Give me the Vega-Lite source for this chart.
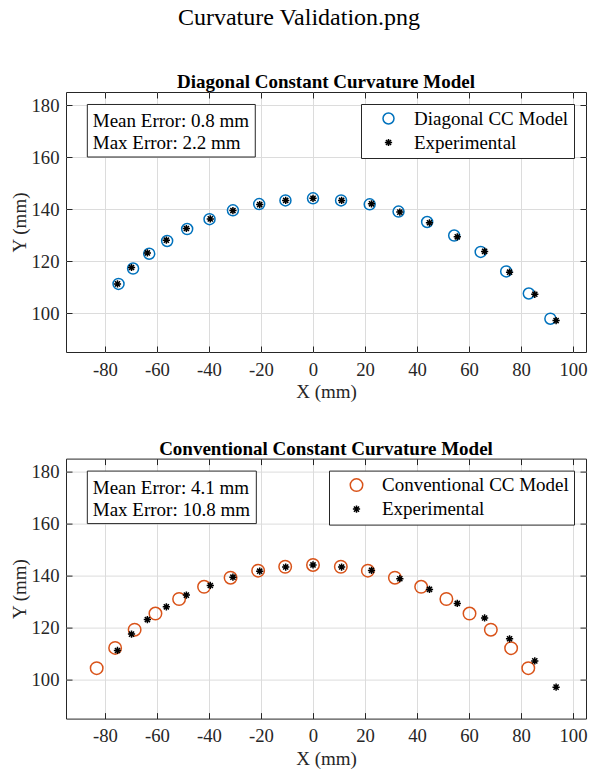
{
  "$schema": "https://vega.github.io/schema/vega-lite/v6.json",
  "background": "white",
  "padding": {"left": 10, "top": 5, "right": 5, "bottom": 5},
  "title": {"text": "Curvature Validation.png", "fontSize": 24, "fontWeight": "normal", "font": "Liberation Serif", "anchor": "middle", "offset": 42.7, "color": "#000000"},
  "datasets": {
    "points": [
      {"panel": "diag", "series": "Diagonal CC Model", "x": -74.8, "y": 111.2},
      {"panel": "diag", "series": "Diagonal CC Model", "x": -69.2, "y": 117.1},
      {"panel": "diag", "series": "Diagonal CC Model", "x": -63.0, "y": 122.8},
      {"panel": "diag", "series": "Diagonal CC Model", "x": -56.1, "y": 127.7},
      {"panel": "diag", "series": "Diagonal CC Model", "x": -48.4, "y": 132.3},
      {"panel": "diag", "series": "Diagonal CC Model", "x": -39.8, "y": 136.1},
      {"panel": "diag", "series": "Diagonal CC Model", "x": -30.8, "y": 139.5},
      {"panel": "diag", "series": "Diagonal CC Model", "x": -20.7, "y": 141.9},
      {"panel": "diag", "series": "Diagonal CC Model", "x": -10.6, "y": 143.3},
      {"panel": "diag", "series": "Diagonal CC Model", "x": 0.0, "y": 144.1},
      {"panel": "diag", "series": "Diagonal CC Model", "x": 10.8, "y": 143.3},
      {"panel": "diag", "series": "Diagonal CC Model", "x": 21.8, "y": 141.8},
      {"panel": "diag", "series": "Diagonal CC Model", "x": 32.9, "y": 139.0},
      {"panel": "diag", "series": "Diagonal CC Model", "x": 43.9, "y": 135.0},
      {"panel": "diag", "series": "Diagonal CC Model", "x": 54.3, "y": 129.8},
      {"panel": "diag", "series": "Diagonal CC Model", "x": 64.5, "y": 123.5},
      {"panel": "diag", "series": "Diagonal CC Model", "x": 74.3, "y": 116.0},
      {"panel": "diag", "series": "Diagonal CC Model", "x": 83.0, "y": 107.5},
      {"panel": "diag", "series": "Diagonal CC Model", "x": 91.3, "y": 97.8},
      {"panel": "diag", "series": "Experimental", "x": -75.2, "y": 111.2},
      {"panel": "diag", "series": "Experimental", "x": -69.8, "y": 117.5},
      {"panel": "diag", "series": "Experimental", "x": -63.7, "y": 123.1},
      {"panel": "diag", "series": "Experimental", "x": -56.4, "y": 128.0},
      {"panel": "diag", "series": "Experimental", "x": -48.7, "y": 132.5},
      {"panel": "diag", "series": "Experimental", "x": -39.5, "y": 136.2},
      {"panel": "diag", "series": "Experimental", "x": -30.8, "y": 139.4},
      {"panel": "diag", "series": "Experimental", "x": -20.5, "y": 141.7},
      {"panel": "diag", "series": "Experimental", "x": -10.5, "y": 143.3},
      {"panel": "diag", "series": "Experimental", "x": 0.0, "y": 144.1},
      {"panel": "diag", "series": "Experimental", "x": 11.0, "y": 143.3},
      {"panel": "diag", "series": "Experimental", "x": 22.5, "y": 142.0},
      {"panel": "diag", "series": "Experimental", "x": 33.4, "y": 138.8},
      {"panel": "diag", "series": "Experimental", "x": 44.8, "y": 134.7},
      {"panel": "diag", "series": "Experimental", "x": 55.5, "y": 129.3},
      {"panel": "diag", "series": "Experimental", "x": 66.0, "y": 123.7},
      {"panel": "diag", "series": "Experimental", "x": 75.6, "y": 115.7},
      {"panel": "diag", "series": "Experimental", "x": 85.3, "y": 107.2},
      {"panel": "diag", "series": "Experimental", "x": 93.5, "y": 97.1},
      {"panel": "conv", "series": "Conventional CC Model", "x": -83.2, "y": 104.4},
      {"panel": "conv", "series": "Conventional CC Model", "x": -76.1, "y": 112.2},
      {"panel": "conv", "series": "Conventional CC Model", "x": -68.6, "y": 119.2},
      {"panel": "conv", "series": "Conventional CC Model", "x": -60.6, "y": 125.4},
      {"panel": "conv", "series": "Conventional CC Model", "x": -51.5, "y": 131.0},
      {"panel": "conv", "series": "Conventional CC Model", "x": -41.9, "y": 135.7},
      {"panel": "conv", "series": "Conventional CC Model", "x": -31.7, "y": 139.2},
      {"panel": "conv", "series": "Conventional CC Model", "x": -21.1, "y": 141.9},
      {"panel": "conv", "series": "Conventional CC Model", "x": -10.7, "y": 143.4},
      {"panel": "conv", "series": "Conventional CC Model", "x": 0.0, "y": 144.1},
      {"panel": "conv", "series": "Conventional CC Model", "x": 10.7, "y": 143.4},
      {"panel": "conv", "series": "Conventional CC Model", "x": 21.1, "y": 141.9},
      {"panel": "conv", "series": "Conventional CC Model", "x": 31.5, "y": 139.2},
      {"panel": "conv", "series": "Conventional CC Model", "x": 41.6, "y": 135.7},
      {"panel": "conv", "series": "Conventional CC Model", "x": 51.3, "y": 131.0},
      {"panel": "conv", "series": "Conventional CC Model", "x": 60.2, "y": 125.4},
      {"panel": "conv", "series": "Conventional CC Model", "x": 68.4, "y": 119.2},
      {"panel": "conv", "series": "Conventional CC Model", "x": 76.2, "y": 112.1},
      {"panel": "conv", "series": "Conventional CC Model", "x": 82.8, "y": 104.4},
      {"panel": "conv", "series": "Experimental", "x": -75.2, "y": 111.2},
      {"panel": "conv", "series": "Experimental", "x": -69.8, "y": 117.5},
      {"panel": "conv", "series": "Experimental", "x": -63.7, "y": 123.1},
      {"panel": "conv", "series": "Experimental", "x": -56.4, "y": 128.0},
      {"panel": "conv", "series": "Experimental", "x": -48.7, "y": 132.5},
      {"panel": "conv", "series": "Experimental", "x": -39.5, "y": 136.2},
      {"panel": "conv", "series": "Experimental", "x": -30.8, "y": 139.4},
      {"panel": "conv", "series": "Experimental", "x": -20.5, "y": 141.7},
      {"panel": "conv", "series": "Experimental", "x": -10.5, "y": 143.3},
      {"panel": "conv", "series": "Experimental", "x": 0.0, "y": 144.1},
      {"panel": "conv", "series": "Experimental", "x": 11.0, "y": 143.3},
      {"panel": "conv", "series": "Experimental", "x": 22.5, "y": 142.0},
      {"panel": "conv", "series": "Experimental", "x": 33.4, "y": 138.8},
      {"panel": "conv", "series": "Experimental", "x": 44.8, "y": 134.7},
      {"panel": "conv", "series": "Experimental", "x": 55.5, "y": 129.3},
      {"panel": "conv", "series": "Experimental", "x": 66.0, "y": 123.7},
      {"panel": "conv", "series": "Experimental", "x": 75.6, "y": 115.7},
      {"panel": "conv", "series": "Experimental", "x": 85.3, "y": 107.2},
      {"panel": "conv", "series": "Experimental", "x": 93.5, "y": 97.1}
    ],
    "boxes": [
      {"panel": "diag", "x1": -86.8, "x2": -22.2, "y1": 180.2, "y2": 160.0},
      {"panel": "conv", "x1": -86.8, "x2": -21.8, "y1": 180.2, "y2": 160.0}
    ],
    "notes": [
      {"panel": "diag", "x": -84.7, "y": 173.8, "text": "Mean Error: 0.8 mm"},
      {"panel": "diag", "x": -84.7, "y": 165.4, "text": "Max Error: 2.2 mm"},
      {"panel": "conv", "x": -84.7, "y": 173.8, "text": "Mean Error: 4.1 mm"},
      {"panel": "conv", "x": -84.7, "y": 165.4, "text": "Max Error: 10.8 mm"}
    ]
  },
  "spacing": 35.6,
  "resolve": {"scale": {"color": "independent", "shape": "independent"}},
  "vconcat": [
    {
      "width": 520,
      "height": 260,
      "title": {"text": "Diagonal Constant Curvature Model", "fontSize": 19, "fontWeight": "bold", "baseline": "alphabetic", "offset": -15.5, "anchor": "middle", "color": "#000000"},
      "resolve": {"axis": {"x": "independent", "y": "independent"}},
      "layer": [
        {
          "data": {"name": "points"},
          "transform": [{"filter": "datum.panel === 'diag'"}],
          "mark": {"type": "point", "filled": false, "size": 156, "strokeWidth": 1.5, "opacity": 1},
          "encoding": {
            "x": {"field": "x", "type": "quantitative", "scale": {"domain": [-95, 105], "nice": false, "zero": false}, "axis": {"title": "X (mm)", "grid": true, "values": [-80, -60, -40, -20, 0, 20, 40, 60, 80, 100], "labelExpr": "datum.value < 0 ? '-' + (-datum.value) : '' + datum.value"}},
            "y": {"field": "y", "type": "quantitative", "scale": {"domain": [85, 185], "nice": false, "zero": false}, "axis": {"title": "Y (mm)", "grid": true, "values": [100, 120, 140, 160, 180]}},
            "color": {"field": "series", "type": "nominal", "scale": {"domain": ["Diagonal CC Model", "Experimental"], "range": ["#0072BD", "#000000"]}, "legend": {"title": null}},
            "shape": {"field": "series", "type": "nominal", "scale": {"domain": ["Diagonal CC Model", "Experimental"], "range": ["M-0.88,0A0.88,0.88,0,1,1,0.88,0A0.88,0.88,0,1,1,-0.88,0Z", "M-0.58,0L0.58,0M0,-0.58L0,0.58M-0.41,-0.41L0.41,0.41M-0.41,0.41L0.41,-0.41"]}, "legend": {"title": null}}
          }
        },
        {
          "data": {"name": "boxes"},
          "transform": [{"filter": "datum.panel === 'diag'"}],
          "mark": {"type": "rect", "fill": "white", "stroke": "#262626", "strokeWidth": 1},
          "encoding": {
            "x": {"field": "x1", "type": "quantitative", "scale": {"domain": [-95, 105], "nice": false, "zero": false}, "axis": {"orient": "top", "labels": false, "labelPadding": 0, "grid": false, "title": null, "values": [-80, -60, -40, -20, 0, 20, 40, 60, 80, 100]}},
            "x2": {"field": "x2"},
            "y": {"field": "y1", "type": "quantitative", "scale": {"domain": [85, 185], "nice": false, "zero": false}, "axis": {"orient": "right", "labels": false, "labelPadding": 0, "grid": false, "title": null, "values": [100, 120, 140, 160, 180]}},
            "y2": {"field": "y2"}
          }
        },
        {
          "data": {"name": "notes"},
          "transform": [{"filter": "datum.panel === 'diag'"}],
          "mark": {"type": "text", "align": "left", "baseline": "middle", "fontSize": 19, "font": "Liberation Serif", "color": "#000000"},
          "encoding": {
            "x": {"field": "x", "type": "quantitative", "scale": {"domain": [-95, 105], "nice": false, "zero": false}, "axis": null},
            "y": {"field": "y", "type": "quantitative", "scale": {"domain": [85, 185], "nice": false, "zero": false}, "axis": null},
            "text": {"field": "text", "type": "nominal"}
          }
        }
      ]
    },
    {
      "width": 520,
      "height": 260,
      "title": {"text": "Conventional Constant Curvature Model", "fontSize": 19, "fontWeight": "bold", "baseline": "alphabetic", "offset": -15.5, "anchor": "middle", "color": "#000000"},
      "resolve": {"axis": {"x": "independent", "y": "independent"}},
      "layer": [
        {
          "data": {"name": "points"},
          "transform": [{"filter": "datum.panel === 'conv'"}],
          "mark": {"type": "point", "filled": false, "size": 156, "strokeWidth": 1.5, "opacity": 1},
          "encoding": {
            "x": {"field": "x", "type": "quantitative", "scale": {"domain": [-95, 105], "nice": false, "zero": false}, "axis": {"title": "X (mm)", "grid": true, "values": [-80, -60, -40, -20, 0, 20, 40, 60, 80, 100], "labelExpr": "datum.value < 0 ? '-' + (-datum.value) : '' + datum.value"}},
            "y": {"field": "y", "type": "quantitative", "scale": {"domain": [85, 185], "nice": false, "zero": false}, "axis": {"title": "Y (mm)", "grid": true, "values": [100, 120, 140, 160, 180]}},
            "color": {"field": "series", "type": "nominal", "scale": {"domain": ["Conventional CC Model", "Experimental"], "range": ["#D95319", "#000000"]}, "legend": {"title": null}},
            "shape": {"field": "series", "type": "nominal", "scale": {"domain": ["Conventional CC Model", "Experimental"], "range": ["M-1,0A1,1,0,1,1,1,0A1,1,0,1,1,-1,0Z", "M-0.58,0L0.58,0M0,-0.58L0,0.58M-0.41,-0.41L0.41,0.41M-0.41,0.41L0.41,-0.41"]}, "legend": {"title": null}}
          }
        },
        {
          "data": {"name": "boxes"},
          "transform": [{"filter": "datum.panel === 'conv'"}],
          "mark": {"type": "rect", "fill": "white", "stroke": "#262626", "strokeWidth": 1},
          "encoding": {
            "x": {"field": "x1", "type": "quantitative", "scale": {"domain": [-95, 105], "nice": false, "zero": false}, "axis": {"orient": "top", "labels": false, "labelPadding": 0, "grid": false, "title": null, "values": [-80, -60, -40, -20, 0, 20, 40, 60, 80, 100]}},
            "x2": {"field": "x2"},
            "y": {"field": "y1", "type": "quantitative", "scale": {"domain": [85, 185], "nice": false, "zero": false}, "axis": {"orient": "right", "labels": false, "labelPadding": 0, "grid": false, "title": null, "values": [100, 120, 140, 160, 180]}},
            "y2": {"field": "y2"}
          }
        },
        {
          "data": {"name": "notes"},
          "transform": [{"filter": "datum.panel === 'conv'"}],
          "mark": {"type": "text", "align": "left", "baseline": "middle", "fontSize": 19, "font": "Liberation Serif", "color": "#000000"},
          "encoding": {
            "x": {"field": "x", "type": "quantitative", "scale": {"domain": [-95, 105], "nice": false, "zero": false}, "axis": null},
            "y": {"field": "y", "type": "quantitative", "scale": {"domain": [85, 185], "nice": false, "zero": false}, "axis": null},
            "text": {"field": "text", "type": "nominal"}
          }
        }
      ]
    }
  ],
  "config": {
    "font": "Liberation Serif",
    "view": {"stroke": "#262626", "strokeWidth": 1},
    "axis": {"domain": false, "grid": false, "ticks": true, "tickSize": -6, "tickColor": "#262626", "tickWidth": 1, "labelFont": "Liberation Serif", "labelFontSize": 18.7, "labelColor": "#262626", "titleFont": "Liberation Serif", "titleFontSize": 19, "titleFontWeight": "normal", "titleColor": "#262626", "gridColor": "#dcdcdc", "gridWidth": 1, "gridOpacity": 1},
    "axisX": {"labelPadding": 14, "titlePadding": 4},
    "axisY": {"labelPadding": 13, "titlePadding": 1},
    "legend": {"orient": "top-right", "offset": 12, "padding": 5, "strokeColor": "#262626", "fillColor": "white", "labelFont": "Liberation Serif", "labelFontSize": 19, "labelColor": "#000000", "labelLimit": 400, "symbolSize": 156, "symbolStrokeWidth": 1.5, "symbolOffset": 13, "labelOffset": 16, "rowPadding": 4, "cornerRadius": 0},
    "title": {"font": "Liberation Serif", "color": "#000000"}
  }
}
